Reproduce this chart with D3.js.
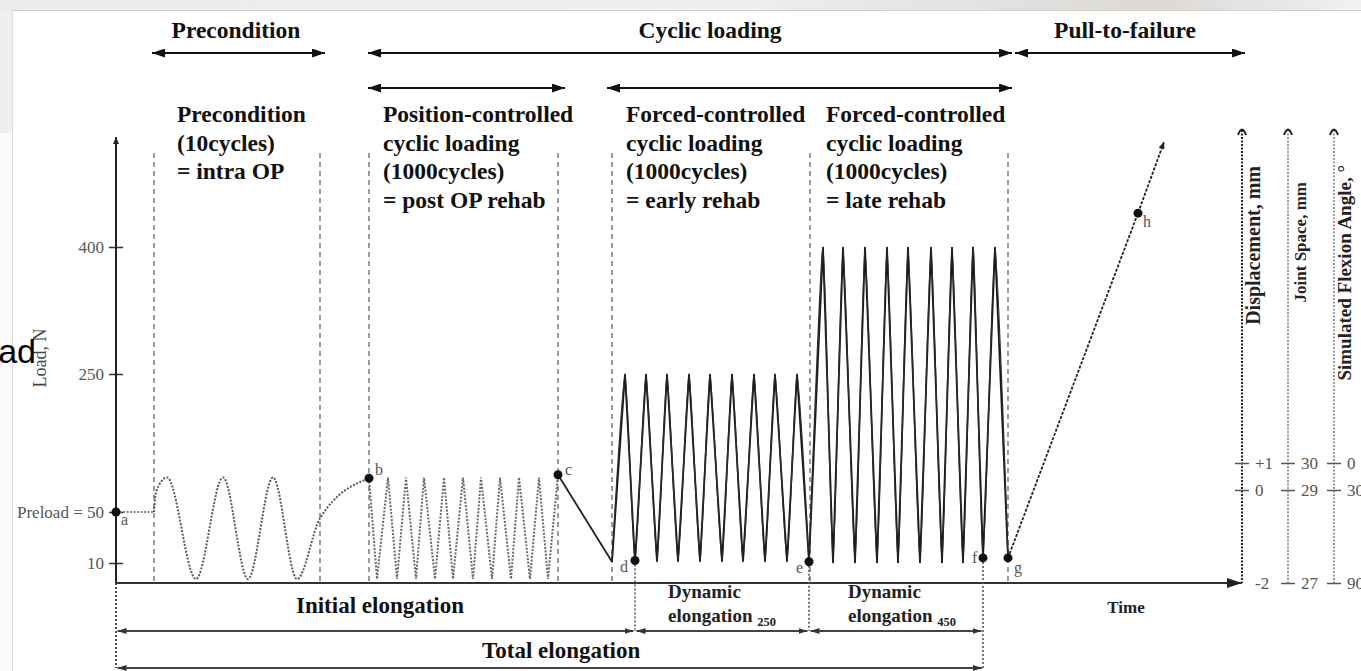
<!DOCTYPE html>
<html><head><meta charset="utf-8">
<script src="https://cdn.jsdelivr.net/npm/d3@7"></script>
<style>
html,body{margin:0;padding:0;background:#fff;overflow:hidden;}
svg{display:block;}
</style></head><body>
<svg id="c" width="1361" height="671"></svg>
<script>
// ---------------- data ----------------
const loadTicks = [10, 50, 250, 400];
const loadTickLabels = ["10", "Preload = 50", "250", "400"];
const dispTicks = [-2, 0, 1];
const dispTickLabels = ["-2", "0", "+1"];
const jointTicks = [27, 29, 30];
const jointTickLabels = ["27", "29", "30"];
const flexTicks = [90, 30, 0];
const flexTickLabels = ["90", "30", "0"];

// time in arbitrary schematic units
const phaseBounds = [38, 204, 253, 442, 496, 694, 892];

const preloadT = [0, 38];
const preloadLoad = [50, 50];

const precondT    = [38, 40, 51, 80, 107, 132, 157, 181, 204, 253];
const precondLoad = [50, 79, 100, 2, 100, 2, 100, 2, 45, 99];

const posT    = [253, 261, 272, 281, 290, 300, 308, 319, 328, 337, 347, 357, 365, 376, 384, 395, 403, 414, 423, 432, 442];
const posLoad = [99, 2, 100, 2, 100, 2, 100, 2, 100, 2, 100, 2, 100, 2, 100, 2, 100, 2, 100, 2, 104];

const unloadT = [442, 496];
const unloadLoad = [104, 11];

const f250T    = [496, 509, 519, 530, 541, 551, 562, 573, 584, 594, 606, 616, 627, 638, 649, 659, 671, 681, 693];
const f250Load = [11, 250, 11, 250, 11, 250, 11, 250, 11, 250, 11, 250, 11, 250, 11, 250, 11, 250, 11];

const f450T    = [693, 707, 717, 727, 739, 749, 761, 771, 782, 792, 804, 815, 826, 836, 847, 857, 867, 879, 892];
const f450Load = [11, 400, 10, 400, 10, 400, 10, 400, 10, 400, 10, 400, 10, 400, 10, 400, 14, 400, 14];

const pullT = [892, 1022, 1048];
const pullLoad = [14, 440, 524];

const pointNames = ["a", "b", "c", "d", "e", "f", "g", "h"];
const pointT     = [0, 253, 442, 519, 693, 867, 892, 1022];
const pointLoad  = [50, 99, 104, 12, 11, 14, 14, 440];

const topLabels = ["Precondition", "Cyclic loading", "Pull-to-failure"];
const topLabelT = [120, 594, 1009];
const row1Spans = [[36, 209], [252, 896], [899, 1129]];
const row2Spans = [[252, 449], [491, 896]];

const columnT = [61, 267, 510, 710];
const columnLines = [
  ["Precondition", "(10cycles)", "= intra OP"],
  ["Position-controlled", "cyclic loading", "(1000cycles)", "= post OP rehab"],
  ["Forced-controlled", "cyclic loading", "(1000cycles)", "= early rehab"],
  ["Forced-controlled", "cyclic loading", "(1000cycles)", "= late rehab"]
];

const elongSpans = [[0, 519], [519, 693], [693, 867]];
const totalSpan = [0, 867];

// ---------------- drawing ----------------
const svg = d3.select("#c");
const W = 1361, H = 671;
const serif = "'Liberation Serif','Times New Roman',serif";

const x = d3.scaleLinear().domain([0, 1125]).range([116, 1241]);
const y = d3.scaleLinear().domain([0, 10, 50, 250, 400]).range([583, 563, 512, 374, 247]);
const axisRange = [583, 490, 463];
const yDisp = d3.scaleLinear().domain([-2, 0, 1]).range(axisRange);
const yJoint = d3.scaleLinear().domain([27, 29, 30]).range(axisRange);
const yFlex = d3.scaleLinear().domain([90, 30, 0]).range(axisRange);

// background frame (screenshot border)
const defs = svg.append("defs");
const g1 = defs.append("linearGradient").attr("id", "topg").attr("x1", 0).attr("x2", 1);
g1.append("stop").attr("offset", 0).attr("stop-color", "#ececec");
g1.append("stop").attr("offset", 0.55).attr("stop-color", "#eeeeee");
g1.append("stop").attr("offset", 0.85).attr("stop-color", "#ddd8d4");
g1.append("stop").attr("offset", 1).attr("stop-color", "#f1f1f1");
svg.append("rect").attr("x", 0).attr("y", 0).attr("width", W).attr("height", 10).attr("fill", "url(#topg)");
svg.append("line").attr("x1", 12).attr("x2", W).attr("y1", 10.5).attr("y2", 10.5).attr("stroke", "#cfcfcf");
svg.append("rect").attr("x", 0).attr("y", 10).attr("width", 12).attr("height", 123).attr("fill", "#efefef");
svg.append("rect").attr("x", 0).attr("y", 133).attr("width", 12).attr("height", H - 133).attr("fill", "#fbfbfb");
svg.append("line").attr("x1", 12.5).attr("x2", 12.5).attr("y1", 10).attr("y2", H).attr("stroke", "#dcdcdc");

// markers
function marker(id, w, h, color) {
  defs.append("marker").attr("id", id)
    .attr("viewBox", `0 0 ${w} ${h}`).attr("refX", w).attr("refY", h / 2)
    .attr("markerWidth", w).attr("markerHeight", h)
    .attr("markerUnits", "userSpaceOnUse").attr("orient", "auto-start-reverse")
    .append("path").attr("d", `M0,0L${w},${h / 2}L0,${h}Z`).attr("fill", color);
}
marker("big", 13, 9, "#111");
marker("small", 9, 6, "#333");
marker("axis", 15, 10, "#222");
marker("tiny", 7, 6, "#222");

// phase boundary dashed lines
svg.append("g").selectAll("line").data(phaseBounds).join("line")
  .attr("x1", d => x(d)).attr("x2", d => x(d))
  .attr("y1", 153).attr("y2", y(0))
  .attr("stroke", "#9a9a9a").attr("stroke-width", 2).attr("stroke-dasharray", "5,4");

// top arrows
const topG = svg.append("g");
topG.selectAll("line.r1").data(row1Spans).join("line").attr("class", "r1")
  .attr("x1", d => x(d[0])).attr("x2", d => x(d[1])).attr("y1", 53).attr("y2", 53)
  .attr("stroke", "#111").attr("stroke-width", 2)
  .attr("marker-start", "url(#big)").attr("marker-end", "url(#big)");
topG.selectAll("line.r2").data(row2Spans).join("line").attr("class", "r2")
  .attr("x1", d => x(d[0])).attr("x2", d => x(d[1])).attr("y1", 88).attr("y2", 88)
  .attr("stroke", "#111").attr("stroke-width", 2)
  .attr("marker-start", "url(#big)").attr("marker-end", "url(#big)");
topG.selectAll("text").data(topLabels).join("text")
  .attr("x", (d, i) => x(topLabelT[i])).attr("y", 38)
  .attr("text-anchor", "middle").attr("font-family", serif).attr("font-weight", "bold")
  .attr("font-size", 23.5).attr("fill", "#111").text(d => d);

// column descriptions
columnLines.forEach((lines, i) => {
  svg.append("g").selectAll("text").data(lines).join("text")
    .attr("x", x(columnT[i])).attr("y", (d, j) => 122 + j * 28.7)
    .attr("font-family", serif).attr("font-weight", "bold").attr("font-size", 23.5)
    .attr("fill", "#111").text(d => d);
});

// y axis
const yAxis = svg.append("g").attr("transform", `translate(${x(0)},0)`)
  .call(d3.axisLeft(y).tickValues(loadTicks).tickFormat((d, i) => loadTickLabels[i]).tickSize(7).tickPadding(5));
yAxis.select(".domain").remove();
yAxis.selectAll(".tick line").attr("x1", 7).attr("stroke", "#333").attr("stroke-width", 1.5);
yAxis.selectAll(".tick text").attr("font-family", serif).attr("font-size", 17).attr("fill", "#555");
svg.append("line").attr("x1", x(0)).attr("x2", x(0)).attr("y1", y(0)).attr("y2", 137)
  .attr("stroke", "#222").attr("stroke-width", 2).attr("marker-end", "url(#tiny)");
// dotted extension of y axis below
svg.append("line").attr("x1", x(0)).attr("x2", x(0)).attr("y1", y(0)).attr("y2", 668)
  .attr("stroke", "#222").attr("stroke-width", 1.6).attr("stroke-dasharray", "2,2");

// y label
svg.append("text").attr("transform", "translate(46,358) rotate(-90)")
  .attr("text-anchor", "middle").attr("font-family", serif).attr("font-size", 18)
  .attr("fill", "#444").text("Load, N");
svg.append("text").attr("x", 36).attr("y", 363).attr("text-anchor", "end")
  .attr("font-family", "'Liberation Sans',Arial,sans-serif").attr("font-size", 34)
  .attr("fill", "#000").text("Load");

// x axis
svg.append("line").attr("x1", x(0)).attr("x2", x(1126)).attr("y1", y(0)).attr("y2", y(0))
  .attr("stroke", "#333").attr("stroke-width", 2.2).attr("marker-end", "url(#axis)");
svg.append("text").attr("x", x(1010)).attr("y", 613).attr("text-anchor", "middle")
  .attr("font-family", serif).attr("font-weight", "bold").attr("font-size", 17)
  .attr("fill", "#222").text("Time");

// curves
const line = (curve) => d3.line().x(d => x(d[0])).y(d => y(d[1])).curve(curve);
const zip = (a, b) => a.map((v, i) => [v, b[i]]);

svg.append("path").datum(zip(preloadT, preloadLoad)).attr("d", line(d3.curveLinear))
  .attr("fill", "none").attr("stroke", "#888").attr("stroke-width", 2).attr("stroke-dasharray", "2,1.5");
svg.append("path").datum(zip(precondT, precondLoad)).attr("d", line(d3.curveMonotoneX))
  .attr("fill", "none").attr("stroke", "#5a5a5a").attr("stroke-width", 2).attr("stroke-dasharray", "2,1.5");
svg.append("path").datum(zip(posT, posLoad)).attr("d", line(d3.curveLinear))
  .attr("fill", "none").attr("stroke", "#6a6a6a").attr("stroke-width", 2).attr("stroke-dasharray", "2,1.5");
svg.append("path").datum(zip(unloadT, unloadLoad)).attr("d", line(d3.curveLinear))
  .attr("fill", "none").attr("stroke", "#222").attr("stroke-width", 1.8);

[zip(f250T, f250Load), zip(f450T, f450Load)].forEach(data => {
  svg.append("path").datum(data).attr("d", line(d3.curveLinear))
    .attr("fill", "none").attr("stroke", "#1a1a1a").attr("stroke-width", 1.8);
  svg.append("path").datum(data).attr("d", line(d3.curveCardinal.tension(0.45)))
    .attr("fill", "none").attr("stroke", "#2a2a2a").attr("stroke-width", 1.4);
});

svg.append("path").datum(zip(pullT, pullLoad)).attr("d", line(d3.curveLinear))
  .attr("fill", "none").attr("stroke", "#222").attr("stroke-width", 1.8)
  .attr("stroke-dasharray", "3,1.5").attr("marker-end", "url(#tiny)");

// dotted drop lines from d, e, f
const drops = [[519, 12, 631], [693, 11, 631], [867, 14, 668]];
svg.append("g").selectAll("line").data(drops).join("line")
  .attr("x1", d => x(d[0])).attr("x2", d => x(d[0]))
  .attr("y1", d => y(d[1])).attr("y2", d => d[2])
  .attr("stroke", "#555").attr("stroke-width", 1.6).attr("stroke-dasharray", "2,2");

// points
const pts = pointNames.map((n, i) => ({ n, t: pointT[i], v: pointLoad[i] }));
const labelOff = { a: [5, 13], b: [6, -3], c: [7, 0], d: [-15, 12], e: [-13, 11], f: [-11, 5], g: [6, 15], h: [5, 14] };
svg.append("g").selectAll("circle").data(pts).join("circle")
  .attr("cx", d => x(d.t)).attr("cy", d => y(d.v)).attr("r", 4.5).attr("fill", "#111");
svg.append("g").selectAll("text").data(pts).join("text")
  .attr("x", d => x(d.t) + labelOff[d.n][0]).attr("y", d => y(d.v) + labelOff[d.n][1])
  .attr("font-family", serif).attr("font-size", 16).attr("fill", "#555").text(d => d.n);

// elongation arrows
svg.append("g").selectAll("line").data(elongSpans).join("line")
  .attr("x1", d => x(d[0]) + 1.5).attr("x2", d => x(d[1]) - 1.5).attr("y1", 631).attr("y2", 631)
  .attr("stroke", "#444").attr("stroke-width", 1.8)
  .attr("marker-start", "url(#small)").attr("marker-end", "url(#small)");
svg.append("line").attr("x1", x(totalSpan[0]) + 1.5).attr("x2", x(totalSpan[1]) - 1)
  .attr("y1", 668).attr("y2", 668).attr("stroke", "#444").attr("stroke-width", 1.8)
  .attr("marker-start", "url(#small)").attr("marker-end", "url(#small)");

svg.append("text").attr("x", x(264)).attr("y", 613).attr("text-anchor", "middle")
  .attr("font-family", serif).attr("font-weight", "bold").attr("font-size", 23)
  .attr("fill", "#111").text("Initial elongation");
svg.append("text").attr("x", x(366)).attr("y", 658)
  .attr("font-family", serif).attr("font-weight", "bold").attr("font-size", 23)
  .attr("fill", "#111").text("Total elongation");

const dyn = [[552, "250"], [732, "450"]];
dyn.forEach(([t, sub]) => {
  svg.append("text").attr("x", x(t)).attr("y", 598)
    .attr("font-family", serif).attr("font-weight", "bold").attr("font-size", 19)
    .attr("fill", "#222").text("Dynamic");
  const tx = svg.append("text").attr("x", x(t)).attr("y", 622)
    .attr("font-family", serif).attr("font-weight", "bold").attr("font-size", 19).attr("fill", "#222");
  tx.append("tspan").text("elongation ");
  tx.append("tspan").attr("font-size", 12.5).attr("dy", 4).text(sub);
});

// right-hand axes
const rightAxes = [
  { xp: 1242, sc: yDisp, ticks: dispTicks, labels: dispTickLabels, color: "#222", title: "Displacement, mm", tx: 1260, ty: 166, fs: 20 },
  { xp: 1288, sc: yJoint, ticks: jointTicks, labels: jointTickLabels, color: "#9a9a9a", title: "Joint Space, mm", tx: 1306, ty: 182, fs: 17 },
  { xp: 1334, sc: yFlex, ticks: flexTicks, labels: flexTickLabels, color: "#9a9a9a", title: "Simulated Flexion Angle, \u00B0", tx: 1351, ty: 165, fs: 19 }
];
rightAxes.forEach((a, k) => {
  svg.append("line").attr("x1", a.xp).attr("x2", a.xp).attr("y1", 130).attr("y2", 583)
    .attr("stroke", a.color).attr("stroke-width", 2).attr("stroke-dasharray", "2,1.5");
  svg.append("path").attr("d", `M${a.xp - 4},${135}Q${a.xp},${124} ${a.xp + 4},${135}`)
    .attr("fill", "none").attr("stroke", "#222").attr("stroke-width", 2);
  const ax = svg.append("g").attr("transform", `translate(${a.xp},0)`)
    .call(d3.axisRight(a.sc).tickValues(a.ticks).tickFormat((d, i) => a.labels[i]).tickSize(7).tickPadding(6));
  ax.select(".domain").remove();
  ax.selectAll(".tick line").attr("x1", -7).attr("stroke", "#555").attr("stroke-width", 1.5)
    .attr("display", (d, i) => (k === 0 && i === 0) ? "none" : null);
  ax.selectAll(".tick text").attr("font-family", serif).attr("font-size", 17).attr("fill", "#555");
  svg.append("text").attr("transform", `translate(${a.tx},${a.ty}) rotate(-90)`)
    .attr("text-anchor", "end").attr("font-family", serif).attr("font-weight", "bold")
    .attr("font-size", a.fs).attr("fill", "#222").text(a.title);
});
</script>
</body></html>
